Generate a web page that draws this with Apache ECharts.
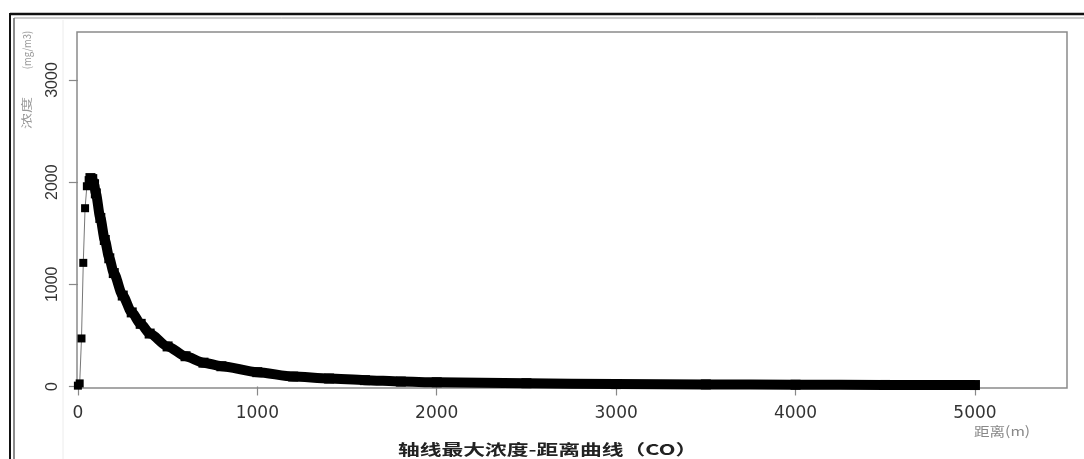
<!DOCTYPE html>
<html>
<head>
<meta charset="utf-8">
<script src="https://cdn.jsdelivr.net/npm/echarts@6/dist/echarts.min.js"></script>
<style>
  html, body { margin: 0; padding: 0; background: #ffffff; }
  #chart { width: 1084px; height: 459px; }
</style>
</head>
<body>
<div id="chart"></div>
<script>
// Axial maximum CO concentration vs. downwind distance
const riseDistance = [0, 10, 20, 30, 40, 50, 60, 70];            // m
const riseConc     = [8, 30, 470, 1210, 1745, 1960, 2020, 2040]; // mg/m3

const decayDistance = [70, 80, 90, 100, 125, 150, 175, 200, 250, 300, 350, 400,
                       500, 600, 700, 800, 1000, 1200, 1400, 1600, 1800, 2000,
                       2500, 3000, 3500, 4000, 4500, 5000];
const decayConc     = [2040, 2030, 1980, 1890, 1650, 1434, 1255, 1110, 890, 725, 613, 518,
                       392, 296, 233, 198, 140, 97, 78, 62, 48, 41,
                       32, 23, 20, 17, 15, 14];

const xTickValues = [0, 1000, 2000, 3000, 4000, 5000];
const yTickValues = [0, 1000, 2000, 3000];

const titleText = '轴线最大浓度-距离曲线（CO）';
const xName = '距离(m)';
const yNameMain = '浓度';
const yNameUnit = '(mg/m3)';

const pairs = (xs, ys) => xs.map((x, i) => [x, ys[i]]);
const plain = v => String(v);

const chart = echarts.init(document.getElementById('chart'), null, { renderer: 'canvas' });

const frameLine = (x1, y1, x2, y2, color, width) => ({
  type: 'line',
  shape: { x1, y1, x2, y2 },
  style: { stroke: color, lineWidth: width },
  silent: true
});

// vertical (bottom-to-top) text used for the y axis name
const verticalText = (text, cx, cy, font, stretch, squash) => ({
  type: 'text',
  x: cx, y: cy,
  rotation: Math.PI / 2,
  scaleX: stretch,
  scaleY: squash,
  style: { text, fill: '#9a9a9a', font, align: 'center', verticalAlign: 'middle' },
  silent: true
});

chart.setOption({
  animation: false,
  backgroundColor: '#ffffff',
  grid: {
    left: 77, right: 17, top: 32, bottom: 71,
    show: true,
    borderColor: '#8a8a8a',
    borderWidth: 1.5,
    backgroundColor: 'transparent'
  },
  xAxis: {
    type: 'value',
    min: -5,
    max: 5513,
    axisLine: { show: false },
    splitLine: { show: false },
    axisTick: {
      show: true, inside: false, length: 9,
      customValues: xTickValues,
      lineStyle: { color: '#888', width: 1.2 }
    },
    axisLabel: {
      customValues: xTickValues,
      formatter: plain,
      margin: 17,
      color: '#333',
      fontFamily: 'DejaVu Sans',
      fontSize: 17
    }
  },
  yAxis: {
    type: 'value',
    min: -15,
    max: 3470,
    axisLine: { show: false },
    splitLine: { show: false },
    axisTick: {
      show: true, inside: false, length: 9,
      customValues: yTickValues,
      lineStyle: { color: '#888', width: 1.2 }
    },
    axisLabel: {
      customValues: yTickValues,
      formatter: plain,
      rotate: 90,
      margin: 16,
      color: '#333',
      fontFamily: 'Liberation Sans',
      fontSize: 16
    }
  },
  series: [
    {
      type: 'line',
      data: pairs(riseDistance, riseConc),
      symbol: 'rect',
      symbolSize: 8,
      showAllSymbol: true,
      itemStyle: { color: '#000' },
      lineStyle: { color: '#777', width: 1 },
      z: 3
    },
    {
      type: 'line',
      data: pairs(decayDistance, decayConc),
      symbol: 'rect',
      symbolSize: 10,
      showAllSymbol: true,
      smooth: 0.25,
      smoothMonotone: 'x',
      itemStyle: { color: '#000' },
      lineStyle: { color: '#000', width: 10, join: 'round', cap: 'butt' },
      z: 4
    }
  ],
  graphic: [
    // outer document frame
    frameLine(10, 14, 1084, 14, '#111', 2.5),
    frameLine(14, 18, 1084, 18, '#999', 1),
    frameLine(10, 13, 10, 459, '#111', 2),
    frameLine(14, 18, 14, 459, '#666', 1.5),
    frameLine(63, 20, 63, 459, '#ececec', 1),
    // y axis name
    verticalText(yNameMain, 27, 113, '16px "Noto Sans CJK SC"', 1, 0.7),
    verticalText(yNameUnit, 27, 50, '13px "Noto Sans CJK SC"', 0.72, 0.85),
    // x axis name
    {
      type: 'text',
      x: 1002, y: 431,
      scaleX: 1.2,
      style: {
        text: xName,
        fill: '#888',
        font: '13px "Noto Sans CJK SC"',
        align: 'center',
        verticalAlign: 'middle'
      },
      silent: true
    },
    // chart caption
    {
      type: 'text',
      x: 398, y: 449,
      scaleX: 1.45,
      style: {
        text: titleText,
        fill: '#222',
        font: 'bold 15px "Noto Sans CJK SC"',
        align: 'left',
        verticalAlign: 'middle'
      },
      silent: true
    }
  ]
});
</script>
</body>
</html>
